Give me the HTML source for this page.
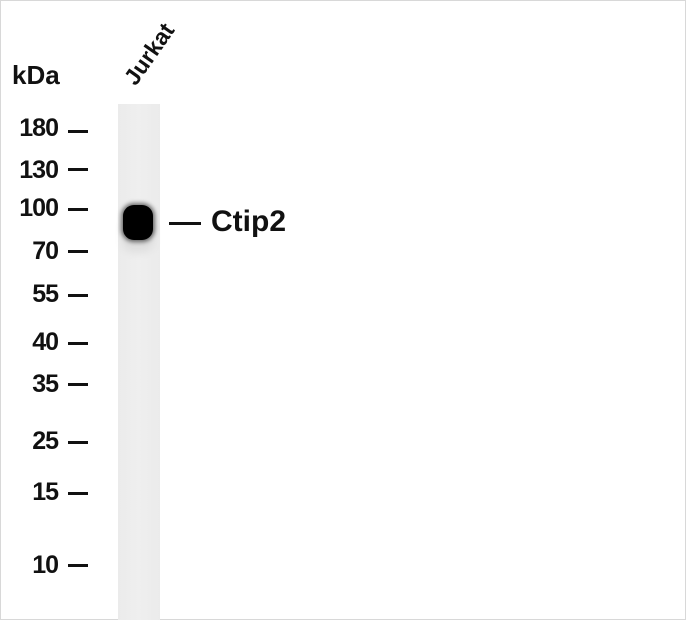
<!DOCTYPE html>
<html><head><style>
body{margin:0;width:686px;height:620px;background:#fff;position:relative;overflow:hidden;font-family:"Liberation Sans",Arial,sans-serif;font-weight:bold;color:#111}
.frame{position:absolute;left:0;top:0;width:684px;height:618px;border:1px solid #d8d8d8}
.l{position:absolute;right:628px;font-size:25px;line-height:25px;letter-spacing:-1px}
.t{position:absolute;left:68px;width:20px;height:3px;background:#111}
.lane{position:absolute;left:118px;top:104px;width:42px;height:516px;background:linear-gradient(90deg,#ebebeb,#efefef,#ebebeb)}
.band{position:absolute;left:123px;top:205px;width:30px;height:35px;background:#000;border-radius:11px;box-shadow:0 0 4px 2px rgba(0,0,0,.55),0 12px 10px rgba(0,0,0,.08)}
</style></head><body>
<div class="frame"></div>
<div style="position:absolute;left:12px;top:60px;font-size:26px">kDa</div>
<div style="position:absolute;left:139px;top:66px;font-size:23px;transform:rotate(-55deg);transform-origin:left bottom;white-space:nowrap;line-height:23px">Jurkat</div>
<div class="lane"></div>
<div class="band"></div>
<div class="l" style="top:116px">180</div><div class="t" style="top:130px"></div>
<div class="l" style="top:158px">130</div><div class="t" style="top:168px"></div>
<div class="l" style="top:196px">100</div><div class="t" style="top:208px"></div>
<div class="l" style="top:239px">70</div><div class="t" style="top:250px"></div>
<div class="l" style="top:282px">55</div><div class="t" style="top:294px"></div>
<div class="l" style="top:330px">40</div><div class="t" style="top:342px"></div>
<div class="l" style="top:372px">35</div><div class="t" style="top:383px"></div>
<div class="l" style="top:429px">25</div><div class="t" style="top:441px"></div>
<div class="l" style="top:480px">15</div><div class="t" style="top:492px"></div>
<div class="l" style="top:553px">10</div><div class="t" style="top:564px"></div>
<div style="position:absolute;left:169px;top:222px;width:32px;height:3px;background:#111"></div>
<div style="position:absolute;left:211px;top:206px;font-size:30px;line-height:32px">Ctip2</div>
</body></html>
